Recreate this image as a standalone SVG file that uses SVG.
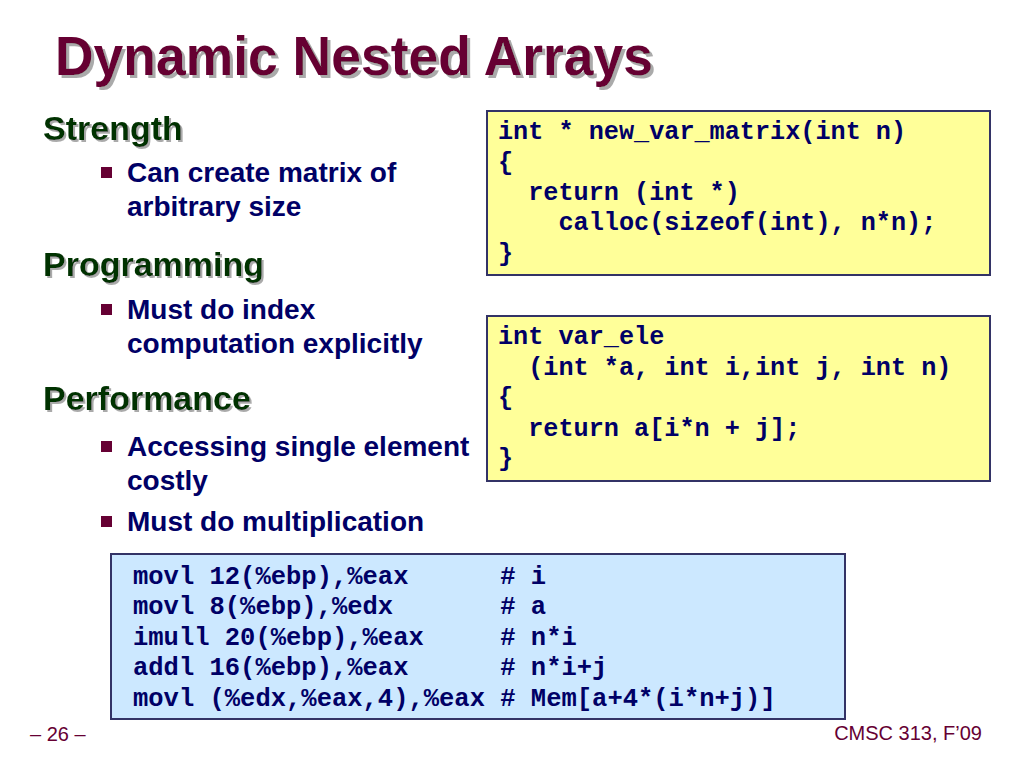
<svg xmlns="http://www.w3.org/2000/svg" width="1024" height="768" viewBox="0 0 1024 768">
<style>
.title{font-family:"Liberation Sans",Arial,sans-serif;font-weight:bold;font-size:56px;fill:#660033}
.head{font-family:"Liberation Sans",Arial,sans-serif;font-weight:bold;font-size:34px;fill:#003300}
.bul{font-family:"Liberation Sans",Arial,sans-serif;font-weight:bold;font-size:28px;fill:#000066}
.code{font-family:"Liberation Mono","Courier New",monospace;font-weight:bold;font-size:25.2px;fill:#000066;white-space:pre}
.asm{font-family:"Liberation Mono","Courier New",monospace;font-weight:bold;font-size:25.5px;fill:#000066;white-space:pre}
.foot{font-family:"Liberation Sans",Arial,sans-serif;font-size:20px;fill:#660033}
.sq{fill:#660033}
.ybox{fill:#FFFF99;stroke:#333366;stroke-width:2}
.bbox{fill:#CCE8FF;stroke:#333366;stroke-width:2}
</style>
<defs>
<filter id="shadow3" x="-5%" y="-20%" width="110%" height="140%">
<feOffset in="SourceAlpha" dx="3" dy="3" result="off"/>
<feFlood flood-color="#aaaaaa"/>
<feComposite in2="off" operator="in" result="sh"/>
<feMerge><feMergeNode in="sh"/><feMergeNode in="SourceGraphic"/></feMerge>
</filter>
<filter id="shadow2" x="-5%" y="-20%" width="110%" height="140%">
<feOffset in="SourceAlpha" dx="2" dy="2" result="off"/>
<feFlood flood-color="#aaaaaa"/>
<feComposite in2="off" operator="in" result="sh"/>
<feMerge><feMergeNode in="sh"/><feMergeNode in="SourceGraphic"/></feMerge>
</filter>
</defs>
<rect width="1024" height="768" fill="#ffffff"/>
<g id="title">
<text class="title" x="55" y="75" filter="url(#shadow3)" textLength="598" lengthAdjust="spacingAndGlyphs">Dynamic Nested Arrays</text>
</g>
<g id="strength">
<text class="head" x="43" y="140" filter="url(#shadow2)">Strength</text>
<rect class="sq" x="101" y="167" width="11" height="11"/>
<text class="bul" x="127" y="182">Can create matrix of</text>
<text class="bul" x="127" y="216">arbitrary size</text>
</g>
<g id="programming">
<text class="head" x="43" y="276" filter="url(#shadow2)">Programming</text>
<rect class="sq" x="101" y="304" width="11" height="11"/>
<text class="bul" x="127" y="319">Must do index</text>
<text class="bul" x="127" y="353">computation explicitly</text>
</g>
<g id="performance">
<text class="head" x="43" y="410" filter="url(#shadow2)">Performance</text>
<rect class="sq" x="101" y="441" width="11" height="11"/>
<text class="bul" x="127" y="456">Accessing single element</text>
<text class="bul" x="127" y="490">costly</text>
<rect class="sq" x="101" y="516" width="11" height="11"/>
<text class="bul" x="127" y="531">Must do multiplication</text>
</g>
<g id="code-new-var-matrix">
<rect class="ybox" x="487" y="111" width="503" height="164"/>
<text class="code" x="498" y="139">int * new_var_matrix(int n)</text>
<text class="code" x="498" y="170">{</text>
<text class="code" x="498" y="200">  return (int *)</text>
<text class="code" x="498" y="230">    calloc(sizeof(int), n*n);</text>
<text class="code" x="498" y="261">}</text>
</g>
<g id="code-var-ele">
<rect class="ybox" x="487" y="316" width="503" height="165"/>
<text class="code" x="498" y="344">int var_ele</text>
<text class="code" x="498" y="375">  (int *a, int i,int j, int n)</text>
<text class="code" x="498" y="405">{</text>
<text class="code" x="498" y="436">  return a[i*n + j];</text>
<text class="code" x="498" y="466">}</text>
</g>
<g id="assembly">
<rect class="bbox" x="111" y="554" width="734" height="165"/>
<text class="asm" x="133" y="584">movl 12(%ebp),%eax      # i</text>
<text class="asm" x="133" y="614">movl 8(%ebp),%edx       # a</text>
<text class="asm" x="133" y="645">imull 20(%ebp),%eax     # n*i</text>
<text class="asm" x="133" y="675">addl 16(%ebp),%eax      # n*i+j</text>
<text class="asm" x="133" y="706">movl (%edx,%eax,4),%eax # Mem[a+4*(i*n+j)]</text>
</g>
<g id="footer">
<text class="foot" x="30" y="741">– 26 –</text>
<text class="foot" x="982" y="740" text-anchor="end">CMSC 313, F’09</text>
</g>
<g id="connectors"/>
</svg>
